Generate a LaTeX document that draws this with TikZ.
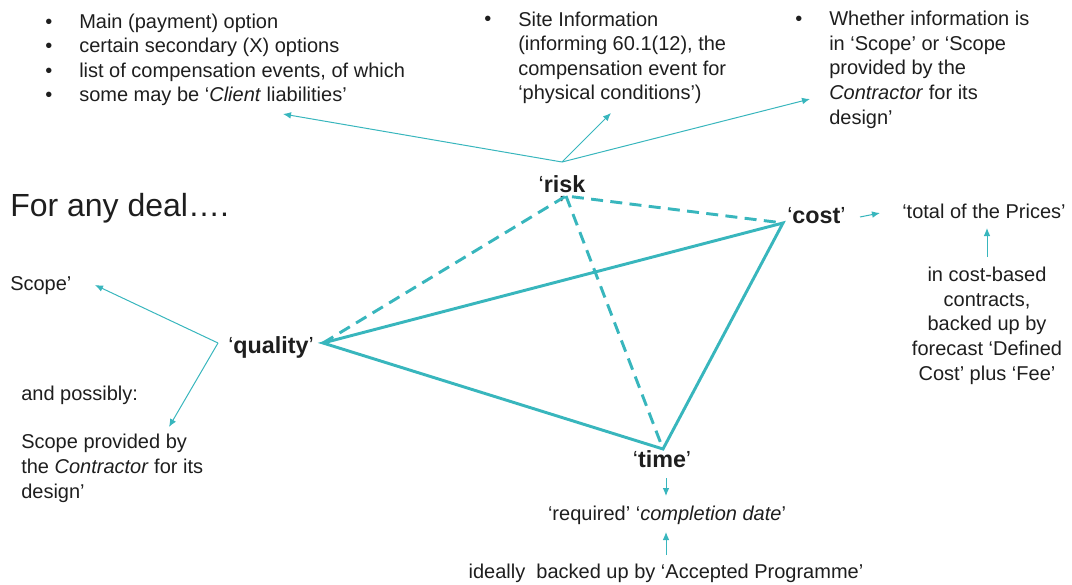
\documentclass[tikz,border=0pt]{standalone}
\usepackage{fontspec}
\setmainfont{Liberation Sans}
\usetikzlibrary{arrows.meta,
                positioning, % For easy node-relative placements
               }
\definecolor{accent}{RGB}{56,182,189}
\definecolor{ink}{RGB}{30,30,30}
\tikzstyle{side} = [draw=accent, line width=2.2pt, line join=miter]
\tikzstyle{link} = [side, dash pattern=on 9pt off 5.5pt]
\tikzstyle{pointer} = [draw=accent, line width=0.75pt, -{Latex[length=6pt,width=5pt]}]
\tikzstyle{txt} = [inner sep=0pt, text=ink, font=\fontsize{15}{18.4}\selectfont, align=left]
\tikzstyle{corner} = [inner sep=0pt, text=ink, font=\fontsize{17.5}{20}\selectfont]

\begin{document}
\begin{tikzpicture}[x=0.75pt, y=-0.75pt]
  \useasboundingbox (0,0) rectangle (1072,585);

  % what the contract says about each corner (base = last line)
  \node (events_b) [txt, anchor=base west] at (45,102) {•\\•\\•\\•};
  \node (events) [txt, anchor=base west] at (79,102) {Main (payment) option\\certain secondary (X) options\\list of compensation events, of which\\some may be ‘\textit{Client} liabilities’};
  \node (site_b) [txt, anchor=base west] at (484,26) {•};
  \node (site) [txt, anchor=base west] at (518,100) {Site Information\\(informing 60.1(12), the\\compensation event for\\‘physical conditions’)};
  \node (whether_b) [txt, anchor=base west] at (795,26) {•};
  \node (whether) [txt, anchor=base west] at (829,124) {Whether information is\\in ‘Scope’ or ‘Scope\\provided by the\\\textit{Contractor} for its\\design’};

  \node (deal) [anchor=base west, inner sep=0pt, text=ink, font=\fontsize{24}{28}\selectfont] at (10,216) {For any deal….};

  \node (scope) [txt, anchor=base west] at (10,290) {Scope’};
  \node (possibly) [txt, anchor=base west] at (21,400) {and possibly:};
  \node (design) [txt, anchor=base west] at (21,498) {Scope provided by\\the \textit{Contractor} for its\\design’};
  \node (prices) [txt, anchor=base west] at (902,218) {‘total of the Prices’};
  \node (fee) [txt, anchor=base, align=center] at (987,380) {in cost-based\\contracts,\\backed up by\\forecast ‘Defined\\Cost’ plus ‘Fee’};
  \node (date) [txt, anchor=base] at (667,520) {‘required’ ‘\textit{completion date}’};
  \node (programme) [txt, anchor=base] at (666,578) {ideally\ \ backed up by ‘Accepted Programme’};

  % the four corners
  \node (quality) [corner, anchor=base west] at (228,353) {‘\textbf{quality}’};
  \node (cost) [corner, anchor=base west] at (787,223) {‘\textbf{cost}’};
  \node (time) [corner, anchor=base] at (662,467) {‘\textbf{time}’};
  \node (risk) [corner, anchor=base, align=center] at (562,212) {‘\textbf{risk}\\[-5pt]’};

  \coordinate (q) at (323,343);
  \coordinate (c) at (783,223);
  \coordinate (t) at (663,449);
  \coordinate (r) at (566,196);

  \draw [side] (t) -- (q) -- (c) -- cycle;
  \draw [link] (q) -- (r) -- (c);
  \draw [link] (r) -- (t);

  % pointers out to the notes
  \coordinate (r_fork) at (562,162);
  \coordinate (to_events) at (283,114);
  \coordinate (to_site) at (611,113);
  \coordinate (to_whether) at (810,99);
  \draw [pointer] (r_fork) -- (to_events);
  \draw [pointer] (r_fork) -- (to_site);
  \draw [pointer] (r_fork) -- (to_whether);

  \coordinate (q_fork) at (218,343);
  \coordinate (to_scope) at (95,285);
  \coordinate (to_design) at (169,427);
  \draw [pointer] (q_fork) -- (to_scope);
  \draw [pointer] (q_fork) -- (to_design);

  \coordinate (c_out) at (860,217);
  \coordinate (to_prices) at (880,213);
  \coordinate (fee_out) at (987,257);
  \coordinate (fee_in) at (987,228);
  \draw [pointer] (c_out) -- (to_prices);
  \draw [pointer] (fee_out) -- (fee_in);

  \coordinate (t_out) at (666,478);
  \coordinate (to_date) at (666,496);
  \coordinate (prog_out) at (666,555);
  \coordinate (prog_in) at (666,532);
  \draw [pointer] (t_out) -- (to_date);
  \draw [pointer] (prog_out) -- (prog_in);
\end{tikzpicture}
\end{document}
